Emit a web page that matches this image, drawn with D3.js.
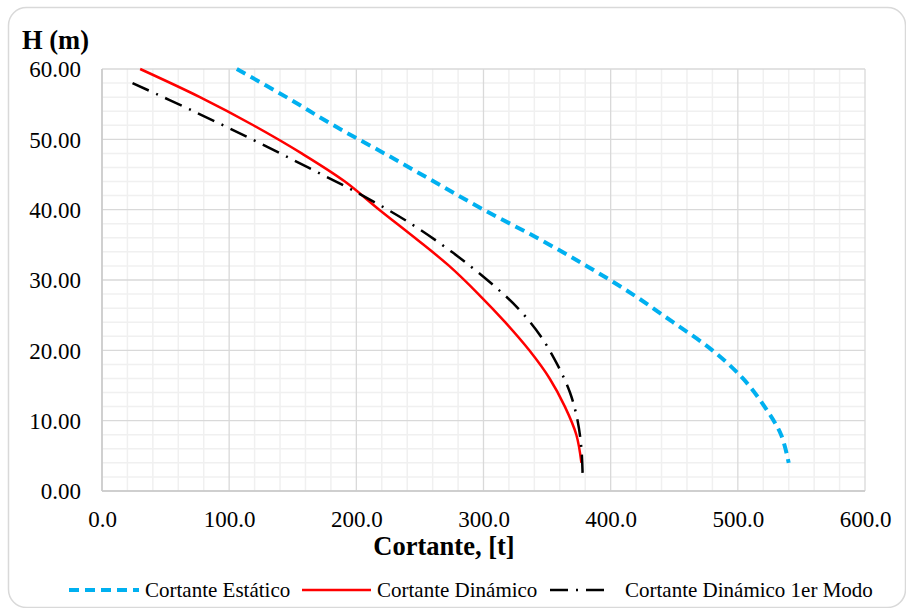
<!DOCTYPE html>
<html>
<head>
<meta charset="utf-8">
<script src="https://cdn.jsdelivr.net/npm/d3@7"></script>
<style>
  html, body { margin: 0; padding: 0; background: #fff; }
  svg { display: block; font-family: "Liberation Serif", "Times New Roman", serif; }
</style>
</head>
<body>
<svg id="chart" width="906" height="608"></svg>
<script>
// ---- Data ----
const staticH = [60, 56, 52, 48, 44, 40, 36, 32, 28, 24, 20, 16, 12, 8, 4];
const staticV = [106, 145, 182, 222, 261, 300, 342, 381, 417, 449, 480, 504, 521, 534, 540];

const dynH = [60, 56, 52, 48, 44, 40, 36, 32, 28, 24, 20, 16, 12, 8, 4];
const dynV = [30, 77, 119, 157, 191, 218, 246, 273, 296, 317, 336, 352, 364, 373, 377];

const mode1H = [58, 54, 50, 46, 42, 38, 34, 30, 26, 22, 18, 14, 10, 6, 2];
const mode1V = [24, 72, 118, 162, 205, 243, 275, 303, 327, 345, 358, 368, 374, 377, 378];

const xTicks = [0, 100, 200, 300, 400, 500, 600];
const yTicks = [0, 10, 20, 30, 40, 50, 60];
const seriesNames = ["Cortante Estático", "Cortante Dinámico", "Cortante Dinámico 1er Modo"];

// ---- Layout ----
const svg = d3.select("#chart");
const L = 102, R = 865, T = 69, B = 491;
const x = d3.scaleLinear().domain([0, 600]).range([L, R]);
const y = d3.scaleLinear().domain([0, 60]).range([B, T]);

// chart border
svg.append("rect")
  .attr("x", 8.5).attr("y", 7.5).attr("width", 897).attr("height", 600)
  .attr("rx", 18).attr("ry", 18)
  .attr("fill", "#fff").attr("stroke", "#d9d9d9").attr("stroke-width", 1.5);

// minor grid
const g = svg.append("g");
d3.range(0, 601, 20).forEach(v => {
  if (v % 100 !== 0) g.append("line").attr("x1", x(v)).attr("x2", x(v)).attr("y1", T).attr("y2", B)
    .attr("stroke", "#f0f0f0").attr("stroke-width", 1.5);
});
d3.range(0, 61, 2).forEach(v => {
  if (v % 10 !== 0) g.append("line").attr("y1", y(v)).attr("y2", y(v)).attr("x1", L).attr("x2", R)
    .attr("stroke", "#f0f0f0").attr("stroke-width", 1.5);
});
// major grid
xTicks.forEach(v => g.append("line").attr("x1", x(v)).attr("x2", x(v)).attr("y1", T).attr("y2", B)
  .attr("stroke", "#d9d9d9").attr("stroke-width", 1.3));
yTicks.forEach(v => g.append("line").attr("y1", y(v)).attr("y2", y(v)).attr("x1", L).attr("x2", R)
  .attr("stroke", "#d9d9d9").attr("stroke-width", 1.3));
// axes lines
g.append("line").attr("x1", L).attr("x2", R).attr("y1", B).attr("y2", B).attr("stroke", "#c8c8c8").attr("stroke-width", 1.5);
g.append("line").attr("x1", L).attr("x2", L).attr("y1", T).attr("y2", B).attr("stroke", "#c8c8c8").attr("stroke-width", 1.5);

// axes (labels)
const xAxis = svg.append("g").attr("transform", `translate(0,${B})`)
  .call(d3.axisBottom(x).tickValues(xTicks).tickFormat(d3.format(".1f")).tickSize(0).tickPadding(0));
xAxis.select(".domain").remove();
xAxis.selectAll("text").attr("y", 36).attr("dy", null)
  .attr("font-size", 23).attr("fill", "#000").attr("font-family", "Liberation Serif");

const yAxis = svg.append("g").attr("transform", `translate(${L},0)`)
  .call(d3.axisLeft(y).tickValues(yTicks).tickFormat(d3.format(".2f")).tickSize(0).tickPadding(21));
yAxis.select(".domain").remove();
yAxis.selectAll("text").attr("dy", "0.34em")
  .attr("font-size", 23).attr("fill", "#000").attr("font-family", "Liberation Serif");

// titles
svg.append("text").attr("x", 22).attr("y", 49).attr("font-size", 26.5).attr("font-weight", "bold")
  .attr("fill", "#000").text("H (m)");
svg.append("text").attr("x", 444).attr("y", 555).attr("text-anchor", "middle").attr("font-size", 26.5)
  .attr("font-weight", "bold").attr("fill", "#000").text("Cortante, [t]");

// series
const line = d3.line().x(d => x(d[0])).y(d => y(d[1])).curve(d3.curveCatmullRom.alpha(0.5));
const styles = [
  { color: "#00b0f0", width: 4, dash: "10,6" },
  { color: "#ff0000", width: 2.5, dash: null },
  { color: "#000000", width: 2.5, dash: "18,8,2,8" }
];
const series = [
  d3.zip(staticV, staticH),
  d3.zip(dynV, dynH),
  d3.zip(mode1V, mode1H)
];
series.forEach((pts, i) => {
  svg.append("path").datum(pts).attr("d", line).attr("fill", "none")
    .attr("stroke", styles[i].color).attr("stroke-width", styles[i].width)
    .attr("stroke-dasharray", styles[i].dash);
});

// legend
const legItems = [
  { x1: 69, x2: 139, tx: 145 },
  { x1: 302, x2: 371, tx: 377 },
  { x1: 550, x2: 612, tx: 625 }
];
legItems.forEach((it, i) => {
  svg.append("line").attr("x1", it.x1).attr("x2", it.x2).attr("y1", 590).attr("y2", 590)
    .attr("stroke", styles[i].color).attr("stroke-width", styles[i].width)
    .attr("stroke-dasharray", styles[i].dash);
  svg.append("text").attr("x", it.tx).attr("y", 597).attr("font-size", 21).attr("fill", "#000")
    .text(seriesNames[i]);
});
</script>
</body>
</html>
